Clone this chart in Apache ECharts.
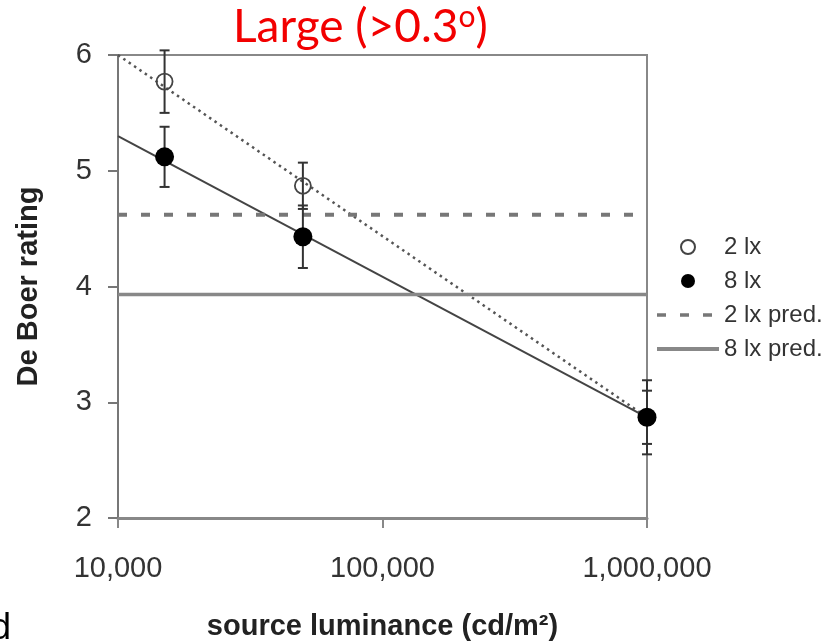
<!DOCTYPE html>
<html>
<head>
<meta charset="utf-8">
<script src="https://cdn.jsdelivr.net/npm/echarts@6/dist/echarts.min.js"></script>
<style>
  html, body { margin: 0; padding: 0; background: #fff; }
  #main { width: 829px; height: 642px; }
</style>
</head>
<body>
<div id="main"></div>
<script>
// Source luminance levels (cd/m2)
var luminance = [15000, 50000, 1000000];

// Observed De Boer ratings and error half-widths
var mean2lx = [5.77, 4.87, 2.87];
var err2lx = [0.27, 0.20, 0.32];
var mean8lx = [5.12, 4.43, 2.87];
var err8lx = [0.26, 0.27, 0.23];

// Fitted regression lines (ends at axis min / max)
var fitX = [10000, 1000000];
var fit2lx = [6.0, 2.87];
var fit8lx = [5.30, 2.87];

// Model predictions (constant)
var pred2lx = 4.62;
var pred8lx = 3.93;

var yTicks = [2, 3, 4, 5, 6];

var FONT = '"Liberation Sans", Arial, sans-serif';

function pairs(xs, ys) {
    return xs.map(function (x, i) { return [x, ys[i]]; });
}

function errData(means, errs) {
    return luminance.map(function (x, i) {
        return [x, means[i] - errs[i], means[i] + errs[i]];
    });
}

// draws a vertical error bar with caps
function renderErr(params, api) {
    var x = api.value(0);
    var top = api.coord([x, api.value(2)]);
    var bot = api.coord([x, api.value(1)]);
    var w = 5;
    var st = { stroke: '#333', lineWidth: 2 };
    return {
        type: 'group',
        children: [
            { type: 'line', shape: { x1: top[0], y1: top[1], x2: bot[0], y2: bot[1] }, style: st },
            { type: 'line', shape: { x1: top[0] - w, y1: top[1], x2: top[0] + w, y2: top[1] }, style: st },
            { type: 'line', shape: { x1: bot[0] - w, y1: bot[1], x2: bot[0] + w, y2: bot[1] }, style: st }
        ]
    };
}

var chart = echarts.init(document.getElementById('main'));

var hidden = { opacity: 0, color: 'rgba(0,0,0,0)', borderWidth: 0 };

var option = {
    backgroundColor: '#fff',
    animation: false,
    title: {
        text: '{a|Large (>0.3}{s|o}{a|)}',
        left: 228,
        top: -3,
        textStyle: {
            rich: {
                a: { fontFamily: 'Lato', fontWeight: 'normal', fontSize: 46, color: '#f20000', lineHeight: 50 },
                s: { fontFamily: 'Lato', fontWeight: 'normal', fontSize: 30, color: '#f20000', lineHeight: 36, verticalAlign: 'top' }
            }
        }
    },
    legend: {
        orient: 'vertical',
        left: 655,
        top: 235,
        padding: 0,
        itemWidth: 62,
        itemHeight: 14,
        itemGap: 10,
        data: [
            { name: '2 lx' },
            { name: '8 lx' },
            { name: '2 lx pred.', itemStyle: hidden, lineStyle: { width: 3.5 } },
            { name: '8 lx pred.', itemStyle: hidden, lineStyle: { width: 4 } }
        ],
        textStyle: { fontFamily: FONT, fontSize: 24, color: '#333', lineHeight: 24 }
    },
    grid: {
        left: 118,
        right: 182,
        top: 55,
        bottom: 124,
        containLabel: false,
        outerBoundsMode: 'none',
        show: true,
        borderColor: '#888',
        borderWidth: 2
    },
    xAxis: {
        type: 'log',
        logBase: 10,
        min: 10000,
        max: 1000000,
        name: 'source luminance (cd/m\u00b2)',
        nameLocation: 'middle',
        nameGap: 94,
        nameTextStyle: { fontFamily: FONT, fontSize: 29, fontWeight: 'bold', color: '#222' },
        axisLine: { lineStyle: { color: '#888', width: 3 } },
        axisTick: { length: 10, lineStyle: { color: '#888', width: 2 } },
        minorTick: { show: false },
        splitLine: { show: false },
        axisLabel: {
            margin: 36,
            fontFamily: FONT,
            fontSize: 29,
            color: '#333',
            formatter: function (v) { return Math.round(v).toLocaleString('en-US'); }
        }
    },
    yAxis: {
        type: 'value',
        min: yTicks[0],
        max: yTicks[yTicks.length - 1],
        interval: 1,
        name: 'De Boer rating',
        nameLocation: 'middle',
        nameGap: 75,
        nameTextStyle: { fontFamily: FONT, fontSize: 29, fontWeight: 'bold', color: '#222' },
        axisLine: { show: true, lineStyle: { color: '#777', width: 2 } },
        axisTick: { show: true, length: 10, lineStyle: { color: '#777', width: 2 } },
        splitLine: { show: false },
        axisLabel: { margin: 26, fontFamily: FONT, fontSize: 29, color: '#333' }
    },
    series: [
        {
            name: '2 lx fit',
            type: 'line',
            data: pairs(fitX, fit2lx),
            symbol: 'none',
            lineStyle: { color: '#555', width: 2.5, type: [2.5, 4] },
            z: 2
        },
        {
            name: '8 lx fit',
            type: 'line',
            data: pairs(fitX, fit8lx),
            symbol: 'none',
            lineStyle: { color: '#444', width: 2 },
            z: 2
        },
        {
            name: '2 lx pred.',
            type: 'line',
            data: pairs(fitX, [pred2lx, pred2lx]),
            symbol: 'none',
            itemStyle: hidden,
            lineStyle: { color: '#777', width: 4, type: [9, 14] },
            z: 2
        },
        {
            name: '8 lx pred.',
            type: 'line',
            data: pairs(fitX, [pred8lx, pred8lx]),
            symbol: 'none',
            itemStyle: hidden,
            lineStyle: { color: '#888', width: 3.5 },
            z: 2
        },
        {
            name: 'err 2 lx',
            type: 'custom',
            renderItem: renderErr,
            encode: { x: 0, y: [1, 2] },
            data: errData(mean2lx, err2lx),
            z: 3
        },
        {
            name: 'err 8 lx',
            type: 'custom',
            renderItem: renderErr,
            encode: { x: 0, y: [1, 2] },
            data: errData(mean8lx, err8lx),
            z: 3
        },
        {
            name: '2 lx',
            type: 'scatter',
            data: pairs(luminance, mean2lx),
            symbol: 'circle',
            symbolSize: 16,
            itemStyle: { color: 'rgba(255,255,255,0)', borderColor: '#444', borderWidth: 1.8, opacity: 1 },
            z: 4
        },
        {
            name: '8 lx',
            type: 'scatter',
            data: pairs(luminance, mean8lx),
            symbol: 'circle',
            symbolSize: 19,
            itemStyle: { color: '#000', opacity: 1 },
            z: 5
        }
    ],
    graphic: [
        {
            type: 'text',
            left: -9,
            top: 611,
            style: { text: 'd', font: '36px "Liberation Sans", Arial, sans-serif', fill: '#000' }
        }
    ]
};

chart.setOption(option);
</script>
</body>
</html>
